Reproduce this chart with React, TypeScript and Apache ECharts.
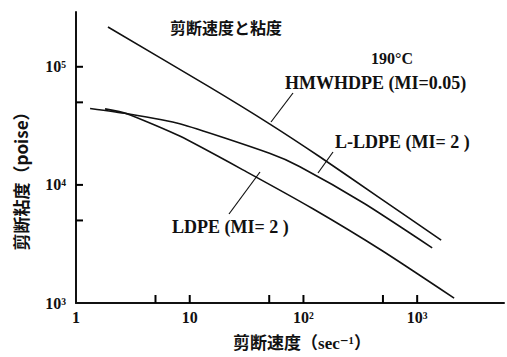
import React, { useEffect, useRef } from "react";
import * as echarts from "echarts";

// Shear rate (sec^-1) and shear viscosity (poise)
const hmwRate = [1.91, 15.0, 50.3, 138, 464, 1625];
const hmwVisc = [2.17e5, 6.73e4, 3.29e4, 1.74e4, 7.8e3, 3.41e3];
const lldpeRate = [1.33, 2.8, 8.17, 50.3, 92.2, 343, 1355];
const lldpeVisc = [4.44e4, 4.01e4, 3.29e4, 1.85e4, 1.43e4, 6.95e3, 2.93e3];
const ldpeRate = [1.8, 2.8, 8.17, 31.6, 120, 493, 2113];
const ldpeVisc = [4.4e4, 4.01e4, 2.59e4, 1.29e4, 6.31e3, 2.77e3, 1.1e3];

const xMin = 1;
const xMax = 5800;
const yMin = 1000;
const yMax = 291000;
const xLabelValues = [1, 10, 100, 1000];
const xLabelTexts = ["1", "10", "10²", "10³"];
const xTickValues = [5, 10, 50, 100, 500, 1000];
const yLabelValues = [1000, 10000, 100000];
const yLabelTexts = ["10³", "10⁴", "10⁵"];
const yTickValues = [5000, 10000, 50000, 100000];

const SERIF = '"Liberation Serif", "DejaVu Serif", "Noto Sans CJK JP", serif';
const CJK = '"Noto Sans CJK JP", "Liberation Serif", sans-serif';

function pairs(xs: number[], ys: number[]) {
  return xs.map((x, i) => [x, ys[i]]);
}

function labelFor(values: number[], texts: string[]) {
  return (v: number) => {
    const i = values.findIndex((t) => Math.abs(Math.log10(t) - Math.log10(v)) < 0.01);
    return i >= 0 ? texts[i] : "";
  };
}

export default function App() {
  const ref = useRef<HTMLDivElement>(null);
  useEffect(() => {
    if (!ref.current) return;
    const chart = echarts.init(ref.current, null, { renderer: "svg" });
    const lineStyle = { color: "#111", width: 1.6 };
    // tick items: [x, y, kind] kind 0 = x-axis tick, 1 = y-axis tick
    const tickData = [
      ...xTickValues.map((v) => [v, yMin, 0]),
      ...yTickValues.map((v) => [xMin, v, 1]),
    ];
    chart.setOption({
      animation: false,
      grid: { left: 76, right: 2, top: 12, bottom: 53 },
      xAxis: {
        type: "log",
        min: xMin,
        max: xMax,
        name: "剪断速度（sec⁻¹）",
        nameLocation: "middle",
        nameGap: 32,
        nameTextStyle: {
          fontFamily: SERIF,
          fontWeight: "bold",
          fontSize: 17,
          color: "#111",
          padding: [0, 0, 0, 24],
        },
        axisLine: { show: true, lineStyle: { color: "#111", width: 2 } },
        axisTick: { show: false },
        splitLine: { show: false },
        axisLabel: {
          margin: 6,
          fontFamily: SERIF,
          fontWeight: "bold",
          fontSize: 16,
          color: "#111",
          formatter: labelFor(xLabelValues, xLabelTexts),
        },
      },
      yAxis: {
        type: "log",
        min: yMin,
        max: yMax,
        axisLine: { show: true, lineStyle: { color: "#111", width: 2 } },
        axisTick: { show: false },
        splitLine: { show: false },
        axisLabel: {
          margin: 10,
          fontFamily: SERIF,
          fontWeight: "bold",
          fontSize: 16,
          color: "#111",
          formatter: labelFor(yLabelValues, yLabelTexts),
        },
      },
      series: [
        { name: "HMWHDPE", type: "line", data: pairs(hmwRate, hmwVisc), showSymbol: false, smooth: 0.2, lineStyle },
        { name: "L-LDPE", type: "line", data: pairs(lldpeRate, lldpeVisc), showSymbol: false, smooth: 0.2, lineStyle },
        { name: "LDPE", type: "line", data: pairs(ldpeRate, ldpeVisc), showSymbol: false, smooth: 0.2, lineStyle },
        {
          name: "ticks",
          type: "custom",
          silent: true,
          clip: false,
          data: tickData,
          renderItem: (_params: any, api: any) => {
            const p = api.coord([api.value(0), api.value(1)]);
            const kind = api.value(2);
            const shape =
              kind === 0
                ? { x1: p[0], y1: p[1], x2: p[0], y2: p[1] - 8 }
                : { x1: p[0], y1: p[1], x2: p[0] + 7, y2: p[1] };
            return { type: "line", shape, style: { stroke: "#000", lineWidth: 2 } };
          },
        },
      ],
      graphic: [
        {
          type: "text",
          x: 20,
          y: 177,
          rotation: Math.PI / 2,
          style: { text: "剪断粘度（poise）", font: `bold 17px ${CJK}`, fill: "#111", align: "center", verticalAlign: "middle" },
        },
        {
          type: "text",
          left: 170,
          top: 19,
          style: { text: "剪断速度と粘度", font: `bold 16px ${CJK}`, fill: "#111" },
        },
        {
          type: "text",
          x: 392,
          y: 58,
          style: { text: "190°C", font: `bold 16px ${SERIF}`, fill: "#111", align: "center", verticalAlign: "middle" },
        },
        {
          type: "text",
          x: 285,
          y: 83,
          style: { text: "HMWHDPE (MI=0.05)", font: `bold 18px ${SERIF}`, fill: "#111", align: "left", verticalAlign: "middle" },
        },
        {
          type: "text",
          x: 335,
          y: 142,
          style: { text: "L-LDPE (MI= 2 )", font: `bold 18px ${SERIF}`, fill: "#111", align: "left", verticalAlign: "middle" },
        },
        {
          type: "text",
          x: 172,
          y: 227,
          style: { text: "LDPE (MI= 2 )", font: `bold 18px ${SERIF}`, fill: "#111", align: "left", verticalAlign: "middle" },
        },
        { type: "line", shape: { x1: 293, y1: 93, x2: 271, y2: 122 }, style: { stroke: "#111", lineWidth: 1.2 } },
        { type: "line", shape: { x1: 333, y1: 152, x2: 318, y2: 173 }, style: { stroke: "#111", lineWidth: 1.2 } },
        { type: "line", shape: { x1: 229, y1: 214, x2: 260, y2: 172 }, style: { stroke: "#111", lineWidth: 1.2 } },
      ],
    });
    return () => chart.dispose();
  }, []);
  return (
    <div
      ref={ref}
      style={{ position: "fixed", left: 0, top: 0, width: 507, height: 357, background: "#fff" }}
    />
  );
}
